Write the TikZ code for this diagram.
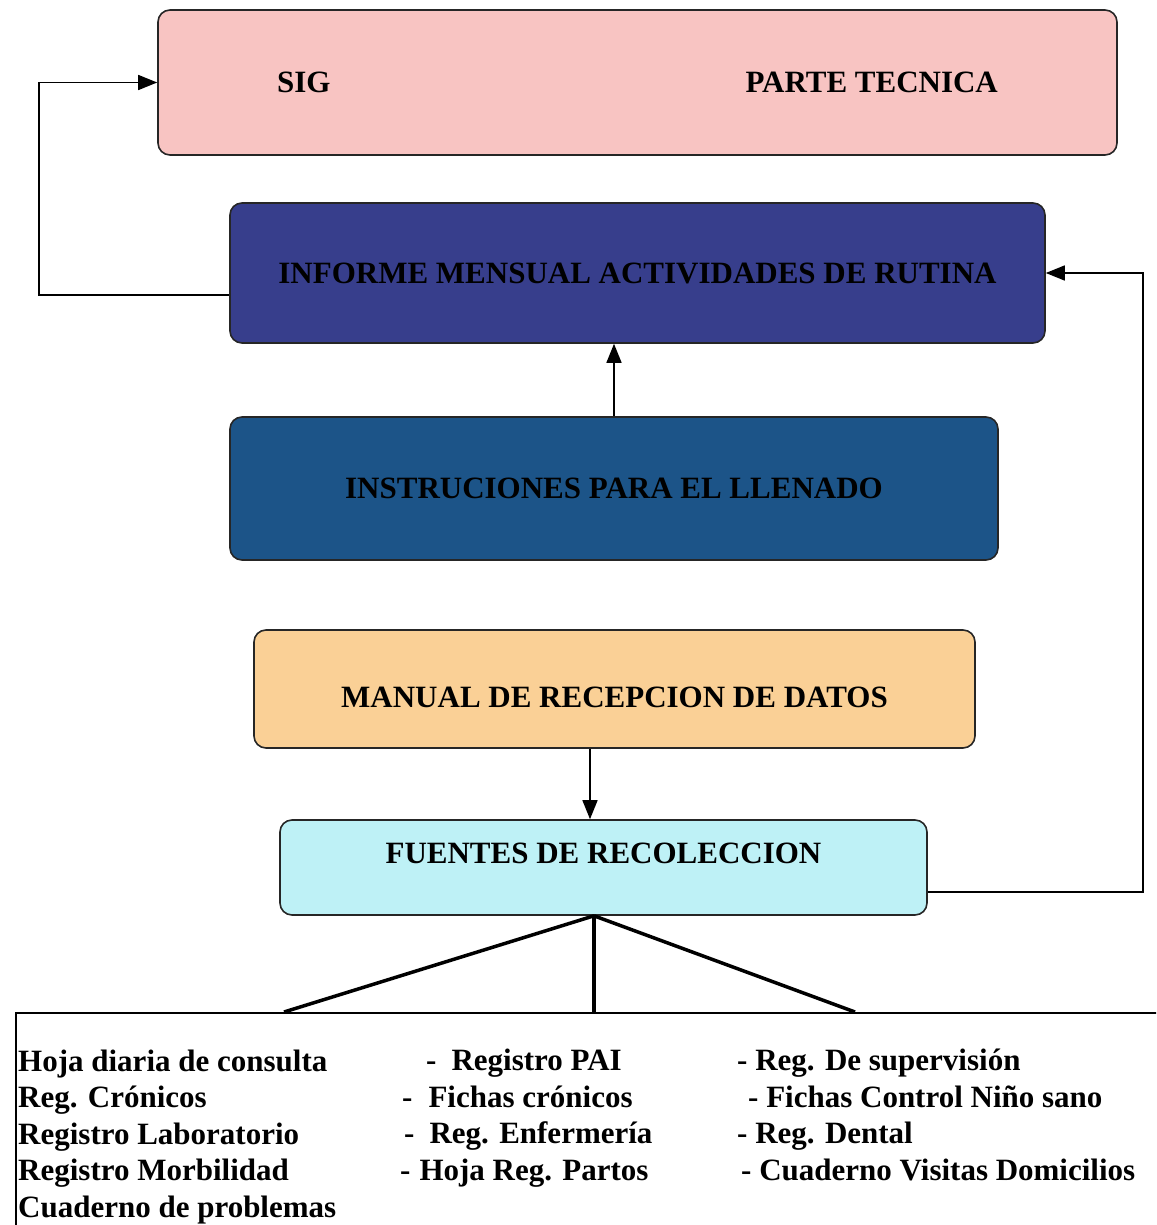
\documentclass[tikz,border=0pt]{standalone}
\usepackage{fontspec}
\setmainfont{Liberation Serif}
\usepackage{tikz}
\usetikzlibrary{arrows.meta}

\definecolor{sigpink}{RGB}{248,196,194}
\definecolor{infblue}{RGB}{55,62,140}
\definecolor{insblue}{RGB}{28,84,136}
\definecolor{manpeach}{RGB}{250,208,150}
\definecolor{fuecyan}{RGB}{190,241,246}

\begin{document}
\begin{tikzpicture}[
  x=1pt, y=-1pt,
  box/.style={rectangle, draw=black!85, rounded corners=12pt, line width=1.6pt,
              align=center, inner sep=0pt,
              font=\fontsize{31}{37}\selectfont\bfseries},
  lst/.style={anchor=base west, align=left, inner sep=0pt,
              font=\fontsize{31}{36.5}\selectfont\bfseries},
  arr/.style={draw, -{Triangle[length=19pt,width=15pt]}, line width=1.5pt},
  rama/.style={draw, line width=3.5pt}
]
\useasboundingbox (0,0) rectangle (1156,1225);
\clip (0,0) rectangle (1156,1225);

\node[box, fill=sigpink, minimum width=959pt, minimum height=145pt]
  (sig) at (637.5,82.5) {SIG\hspace{415pt}PARTE TECNICA};
\node[box, fill=infblue, minimum width=815pt, minimum height=140pt]
  (informe) at (637.5,273) {INFORME MENSUAL ACTIVIDADES DE RUTINA};
\node[box, fill=insblue, minimum width=768pt, minimum height=143pt]
  (instr) at (614,488.5) {INSTRUCIONES PARA EL LLENADO};
\node[box, fill=manpeach, minimum width=721pt, minimum height=118pt,
      text height=43pt, text depth=6pt]
  (manual) at (614.5,689) {MANUAL DE RECEPCION DE DATOS};
\node[box, fill=fuecyan, minimum width=647pt, minimum height=95pt,
      text height=21pt, text depth=30pt]
  (fuentes) at (603.5,867.5) {FUENTES DE RECOLECCION};

\node[draw, line width=1.6pt, anchor=north west, inner sep=0pt,
      minimum width=1170pt, minimum height=240pt] (lista) at (15,1012) {};

\node[lst] (col1) at (18,1217) {Hoja diaria de consulta\\Reg. Crónicos\\
  Registro Laboratorio\\Registro Morbilidad\\Cuaderno de problemas};
\node[lst] (col2) at (400,1180) {\hspace*{26pt}-\hspace*{15pt}Registro PAI\\
  \hspace*{2pt}-\hspace*{16pt}Fichas crónicos\\
  \hspace*{4pt}-\hspace*{15pt}Reg. Enfermería\\
  -\hspace*{9pt}Hoja Reg. Partos};
\node[lst] (col3) at (737,1180) {- Reg. De supervisión\\
  \hspace*{11pt}- Fichas Control Niño sano\\
  - Reg. Dental\\
  \hspace*{4pt}- Cuaderno Visitas Domicilios};

\coordinate (raiz) at ([xshift=-9.5pt]fuentes.south);
\coordinate (r1) at (284,1012);
\coordinate (r3) at (855,1012);

\draw[arr] ([yshift=-22pt]informe.west) -- ++(-190,0) |- (sig.west);
\draw[arr] (instr.north) -- (instr.north |- informe.south);
\draw[arr] ([xshift=-24.5pt]manual.south) -- ([xshift=-24.5pt]manual.south |- fuentes.north);
\draw[arr] ([yshift=-24.5pt]fuentes.east) -- ++(215,0) |- (informe.east);
\draw[rama] (raiz) -- (r1);
\draw[rama] (raiz) -- (raiz |- lista.north);
\draw[rama] (raiz) -- (r3);
\end{tikzpicture}
\end{document}
